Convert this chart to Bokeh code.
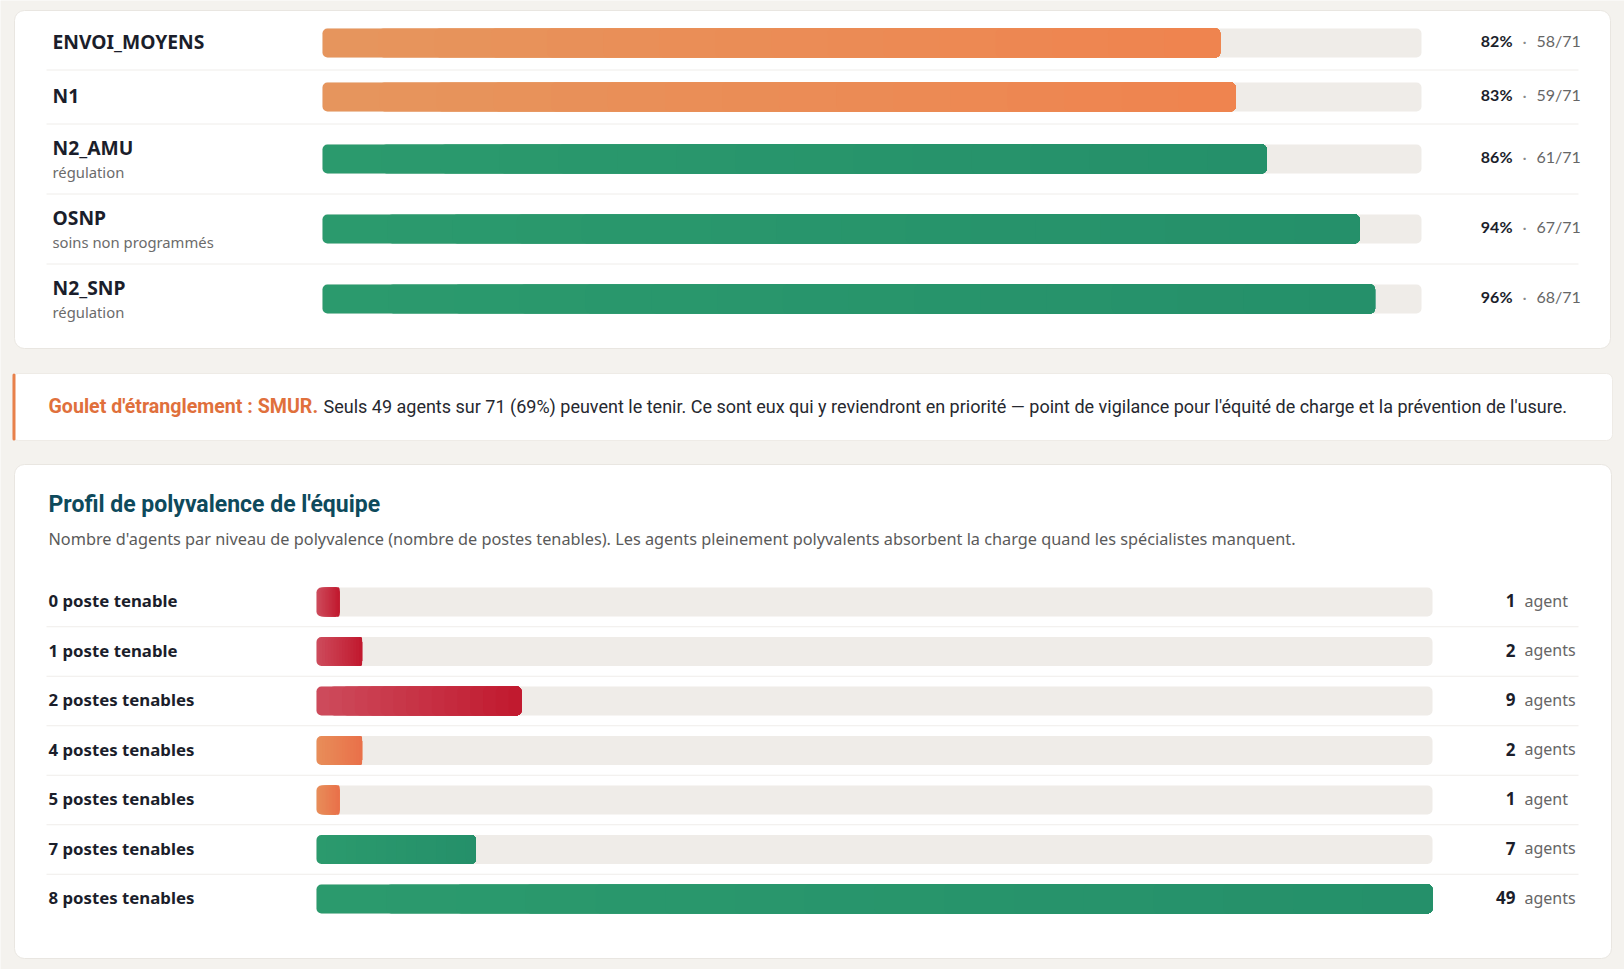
from bokeh.plotting import figure
from bokeh.models import Range1d, ColumnDataSource
from bokeh.embed import file_html
from bokeh.resources import INLINE
from bokeh.core.properties import value

# ---------------- data ----------------
postes = ["ENVOI_MOYENS", "N1", "N2_AMU", "OSNP", "N2_SNP"]
postes_detail = ["", "", "régulation", "soins non programmés", "régulation"]
agents_aptes = [58, 59, 61, 67, 68]
effectif_total = 71

niveaux = ["0 poste tenable", "1 poste tenable", "2 postes tenables",
           "4 postes tenables", "5 postes tenables", "7 postes tenables",
           "8 postes tenables"]
nb_postes = [0, 1, 2, 4, 5, 7, 8]
nb_agents = [1, 2, 9, 2, 1, 7, 49]

goulet_titre = "Goulet d'étranglement : SMUR."
goulet_texte = ("Seuls 49 agents sur 71 (69%) peuvent le tenir. Ce sont eux qui y "
                "reviendront en priorité — point de vigilance pour l'équité de "
                "charge et la prévention de l'usure.")
profil_titre = "Profil de polyvalence de l'équipe"
profil_sous_titre = ("Nombre d'agents par niveau de polyvalence (nombre de postes "
                     "tenables). Les agents pleinement polyvalents absorbent la "
                     "charge quand les spécialistes manquent.")

# ---------------- style ----------------
W, H = 1624, 969
BG = "#f4f2ee"
CARD = "#ffffff"
CARD_LINE = "#e9e6e1"
SEP = "#efedea"
TRACK = "#efece8"
INK = "#1b1e2b"
MUTED = "#6b6b6b"
TITLE = "#0e4a5c"
ACCENT = "#e0703c"

GRAD_ORANGE_TOP = ("#e6955d", "#ef844f")
GRAD_GREEN = ("#2b9a6d", "#25906a")
GRAD_RED = ("#cd4a5b", "#c11a2f")
GRAD_ORANGE = ("#e88d59", "#e9714a")

F_LABEL = value("Noto Sans")
F_NUM = value("Lato")
F_COND = value("Roboto")


def mix(c1, c2, t):
    a = [int(c1[i:i + 2], 16) for i in (1, 3, 5)]
    b = [int(c2[i:i + 2], 16) for i in (1, 3, 5)]
    return "#%02x%02x%02x" % tuple(round(a[k] + (b[k] - a[k]) * t) for k in range(3))


def gradient_segments(vals, centers, grads, half_h, n=16):
    """Overlapping rounded bars, each starting a little further right,
    so the fill shifts from the first colour to the second."""
    d = dict(left=[], right=[], top=[], bottom=[], color=[])
    for v, c, g in zip(vals, centers, grads):
        for k in range(n):
            d["left"].append(v * k / n)
            d["right"].append(v)
            d["top"].append(c - half_h)
            d["bottom"].append(c + half_h)
            d["color"].append(mix(g[0], g[1], k / (n - 1)))
    return ColumnDataSource(d)


p = figure(width=W, height=H, x_range=Range1d(0, W), y_range=Range1d(H, 0),
           x_axis_type=None, y_axis_type=None, output_backend="svg",
           toolbar_location=None, min_border=0)
p.outline_line_color = None
p.background_fill_color = BG
p.border_fill_color = BG

# ---------------- cards ----------------
p.quad(left=[14, 14], right=[1610, 1611], top=[10, 464], bottom=[348, 958],
       fill_color=CARD, line_color=CARD_LINE, line_width=1, border_radius=10)
p.quad(left=[12], right=[1612], top=[373], bottom=[440],
       fill_color=CARD, line_color="#eeebe6", line_width=1, border_radius=6)
p.quad(left=[12], right=[15], top=[373], bottom=[440],
       fill_color="#e8804a", line_color=None, border_radius=2)

# ---------------- top section: coverage per post ----------------
TOP_X0, TOP_X1 = 322, 1421
span = effectif_total * W / (TOP_X1 - TOP_X0)
s = -TOP_X0 * effectif_total / (TOP_X1 - TOP_X0)
p.extra_x_ranges["couverture"] = Range1d(s, s + span)

row_h_single, row_h_double = 54, 70
y = 15.5
centers_top, seps_top = [], []
for i, det in enumerate(postes_detail):
    h = row_h_double if det else row_h_single
    centers_top.append(y + h / 2)
    y += h
    if i < len(postes_detail) - 1:
        seps_top.append(y)

p.segment(x0=46, x1=1578, y0=seps_top, y1=seps_top, line_color=SEP, line_width=1)

pct = [round(100 * n / effectif_total) for n in agents_aptes]
grads_top = [GRAD_GREEN if q >= 85 else GRAD_ORANGE_TOP for q in pct]

p.quad(left=0, right=effectif_total, top=[c - 14.5 for c in centers_top],
       bottom=[c + 14.5 for c in centers_top], fill_color=TRACK, line_color=None,
       border_radius=5, x_range_name="couverture")
p.quad(left="left", right="right", top="top", bottom="bottom", fill_color="color",
       line_color=None, border_radius=5, x_range_name="couverture",
       source=gradient_segments(agents_aptes, centers_top, grads_top, 14.5))

name_y = [c - 11.5 if d else c - 1.5 for c, d in zip(centers_top, postes_detail)]
p.text(x=52, y=name_y, text=postes, text_font=F_LABEL, text_font_size="19.3px",
       text_font_style="bold", text_color=INK, text_baseline="middle")
sub_idx = [i for i, d in enumerate(postes_detail) if d]
p.text(x=52, y=[centers_top[i] + 13 for i in sub_idx],
       text=[postes_detail[i] for i in sub_idx], text_font=F_LABEL,
       text_font_size="14.8px", text_color=MUTED, text_baseline="middle")

lab_y = [c - 2.5 for c in centers_top]
p.text(x=1512, y=lab_y, text=["%d%%" % q for q in pct], text_font=F_NUM,
       text_font_size="16px", text_font_style="bold", text_color=INK,
       text_baseline="middle", text_align="right")
p.text(x=1524, y=lab_y, text=["·"] * len(pct), text_font=F_NUM,
       text_font_size="16px", text_color="#8a8a8a", text_baseline="middle",
       text_align="center")
p.text(x=1536, y=lab_y, text=["%d/%d" % (n, effectif_total) for n in agents_aptes],
       text_font=F_NUM, text_font_size="16px", text_color="#666666",
       text_baseline="middle", text_align="left")

# ---------------- bottleneck note ----------------
p.text(x=48, y=406, text=[goulet_titre], text_font=F_COND, text_font_size="19.6px",
       text_font_style="bold", text_color=ACCENT, text_baseline="middle")
p.text(x=323, y=406, text=[goulet_texte], text_font=F_COND, text_font_size="18px",
       text_color="#26282f", text_baseline="middle")

# ---------------- bottom section: versatility profile ----------------
p.text(x=48, y=504, text=[profil_titre], text_font=F_COND, text_font_size="23px",
       text_font_style="bold", text_color=TITLE, text_baseline="middle")
p.text(x=48, y=538, text=[profil_sous_titre], text_font=F_LABEL, text_font_size="16.3px",
       text_color="#5a5a5a", text_baseline="middle")

BOT_X0, BOT_X1 = 316, 1432
max_agents = max(nb_agents)
span_b = max_agents * W / (BOT_X1 - BOT_X0)
s_b = -BOT_X0 * max_agents / (BOT_X1 - BOT_X0)
p.extra_x_ranges["profil"] = Range1d(s_b, s_b + span_b)

pitch = 49.5
centers_bot = [601.5 + pitch * i for i in range(len(niveaux))]
seps_bot = [c + pitch / 2 for c in centers_bot[:-1]]
p.segment(x0=46, x1=1578, y0=seps_bot, y1=seps_bot, line_color=SEP, line_width=1)


def grad_for(n):
    if n <= 2:
        return GRAD_RED
    if n <= 5:
        return GRAD_ORANGE
    return GRAD_GREEN


grads_bot = [grad_for(n) for n in nb_postes]
p.quad(left=0, right=max_agents, top=[c - 14.5 for c in centers_bot],
       bottom=[c + 14.5 for c in centers_bot], fill_color=TRACK, line_color=None,
       border_radius=5, x_range_name="profil")
p.quad(left="left", right="right", top="top", bottom="bottom", fill_color="color",
       line_color=None, border_radius=5, x_range_name="profil",
       source=gradient_segments(nb_agents, centers_bot, grads_bot, 14.5))

text_y_bot = [c - 1.5 for c in centers_bot]
p.text(x=48, y=text_y_bot, text=niveaux, text_font=F_LABEL, text_font_size="16.8px",
       text_font_style="bold", text_color=INK, text_baseline="middle")
p.text(x=1515, y=text_y_bot, text=[str(n) for n in nb_agents], text_font=F_LABEL,
       text_font_size="17px", text_font_style="bold", text_color=INK,
       text_baseline="middle", text_align="right")
p.text(x=1524, y=text_y_bot, text=["agent" if n == 1 else "agents" for n in nb_agents],
       text_font=F_LABEL, text_font_size="16px", text_color="#666666",
       text_baseline="middle", text_align="left")

open("out.html", "w").write(file_html(p, INLINE))
